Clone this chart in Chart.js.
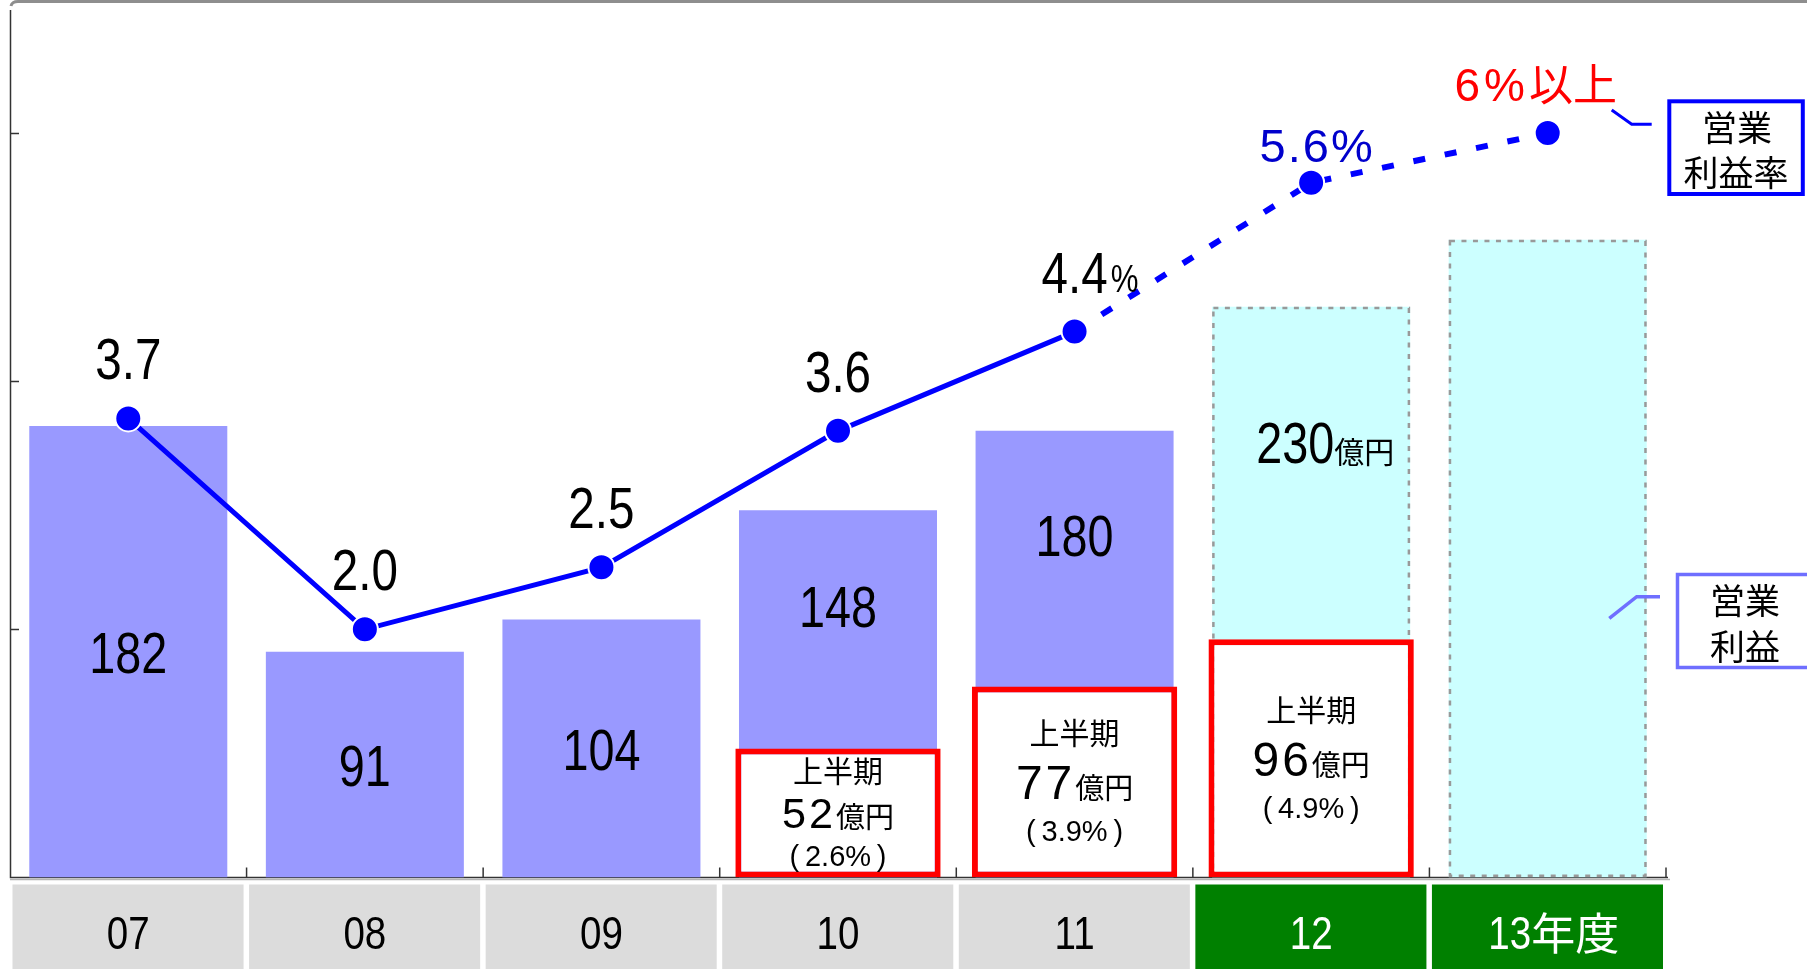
<!DOCTYPE html>
<html><head><meta charset="utf-8">
<script src="https://cdn.jsdelivr.net/npm/chart.js@4.4.1/dist/chart.umd.min.js"></script>
<style>html,body{margin:0;padding:0;background:#fff;} canvas{display:block;}</style>
</head><body>
<canvas id="c" width="1807" height="969"></canvas>
<script>
// ---- data ----
const categories = ['07', '08', '09', '10', '11', '12', '13年度'];
const operatingProfit = [182, 91, 104, 148, 180, null, null];      // 億円 (actual)
const profitForecast = [null, null, null, null, null, 230, 257];   // 億円 (plan)
const firstHalfProfit = [null, null, null, 52, 77, 96, null];      // 上半期 億円
const firstHalfMargin = [null, null, null, 2.6, 3.9, 4.9, null];   // 上半期 %
const operatingMargin = [3.7, 2.0, 2.5, 3.6, 4.4, 5.6, 6.0];       // 営業利益率 %
const forecastFrom = 5;
const profitAxisMax = 350;
const marginAxisMax = 7;
const profitTicks = [100, 200, 300];

// ---- text helpers ----
const SANS = '"Liberation Sans", Arial, sans-serif';
const CJK = '"Noto Sans CJK JP", sans-serif';
const NARROW = 0.82;
function fontOf(p){ return p.kind === 'cjk' ? CJK : SANS; }
function partWidth(ctx, p){
  ctx.font = p.size + 'px ' + fontOf(p);
  ctx.letterSpacing = (p.ls || 0) + 'px';
  let w = ctx.measureText(p.t).width;
  if (p.kind === 'narrow') w *= NARROW;
  return w;
}
function drawRun(ctx, parts, x, baseline, color, align){
  ctx.save();
  const widths = parts.map(p => partWidth(ctx, p));
  const total = widths.reduce((a, b) => a + b, 0) + parts.reduce((a, p) => a + (p.gap || 0), 0);
  let cx = align === 'left' ? x : x - total / 2;
  ctx.fillStyle = color; ctx.textAlign = 'left'; ctx.textBaseline = 'alphabetic';
  parts.forEach((p, i) => {
    ctx.font = p.size + 'px ' + fontOf(p);
    ctx.letterSpacing = (p.ls || 0) + 'px';
    ctx.save();
    ctx.translate(cx, baseline + (p.dy || 0));
    if (p.kind === 'narrow') ctx.scale(NARROW, 1);
    ctx.fillText(p.t, 0, 0);
    ctx.restore();
    cx += widths[i] + (p.gap || 0);
  });
  ctx.restore();
  return total;
}
function line(ctx, pts){ ctx.beginPath(); ctx.moveTo(pts[0][0], pts[0][1]); for (let i = 1; i < pts.length; i++) ctx.lineTo(pts[i][0], pts[i][1]); ctx.stroke(); }

const decor = {
  id: 'decor',
  beforeDatasetsDraw(chart){
    const {ctx, chartArea: a, scales: {x, y}} = chart;
    ctx.save();
    // top rule
    ctx.strokeStyle = '#8e8e8e'; ctx.lineWidth = 3;
    ctx.beginPath(); ctx.moveTo(a.left + 1, 6); ctx.quadraticCurveTo(a.left + 2, 1.5, a.left + 8, 1.5); ctx.lineTo(chart.width, 1.5); ctx.stroke();
    // axes
    ctx.strokeStyle = '#333'; ctx.lineWidth = 1.5;
    line(ctx, [[a.left + 0.5, a.top + 1], [a.left + 0.5, a.bottom], [a.right + 2, a.bottom]]);
    ctx.strokeStyle = '#b4b4b4'; ctx.lineWidth = 1.5;
    line(ctx, [[a.left, a.bottom + 2], [a.right + 4, a.bottom + 2]]);
    ctx.strokeStyle = '#333'; ctx.lineWidth = 1.5;
    profitTicks.forEach(v => { const py = Math.round(y.getPixelForValue(v)) + 0.5; line(ctx, [[a.left, py], [a.left + 9, py]]); });
    const step = x.getPixelForValue(1) - x.getPixelForValue(0);
    categories.forEach((c, i) => { const bx = x.getPixelForValue(i) + step / 2; line(ctx, [[bx, a.bottom], [bx, a.bottom - 10]]); });
    // category boxes
    categories.forEach((c, i) => {
      const cx = x.getPixelForValue(i);
      const l = cx - step / 2 + 2.5, r = cx + step / 2 - 3;
      const top = a.bottom + 7;
      const plan = i >= forecastFrom;
      ctx.fillStyle = plan ? '#008000' : '#dcdcdc';
      ctx.fillRect(l, top, r - l, chart.height - top);
      const m = c.match(/^(\d+)(.*)$/);
      const parts = [{t: m[1], kind: 'narrow', size: 47}];
      if (m[2]) parts.push({t: m[2], kind: 'cjk', size: 44, dy: 1});
      drawRun(ctx, parts, cx + (m[2] ? 6 : 0), 949, plan ? '#ffffff' : '#000000');
    });
    ctx.restore();
  },
  afterDatasetDraw(chart, args){
    if (args.index !== 1) return;
    const ctx = chart.ctx;
    const meta = chart.getDatasetMeta(1);
    ctx.save();
    ctx.setLineDash([5, 6.5]); ctx.strokeStyle = '#999999'; ctx.lineWidth = 2.5;
    meta.data.forEach((el, i) => {
      if (profitForecast[i] == null) return;
      const {x: ex, y: ey, base, width} = el.getProps(['x', 'y', 'base', 'width'], true);
      ctx.strokeRect(ex - width / 2 + 1.25, ey + 1.25, width - 2.5, base - ey - 3);
    });
    ctx.restore();
  },
  afterDatasetsDraw(chart){
    const ctx = chart.ctx;
    const barMeta = chart.getDatasetMeta(0), fcMeta = chart.getDatasetMeta(1), halfMeta = chart.getDatasetMeta(2), lineMeta = chart.getDatasetMeta(3);
    // operating profit labels
    operatingProfit.forEach((v, i) => {
      if (v == null) return;
      const el = barMeta.data[i];
      let cy;
      if (firstHalfProfit[i] != null) cy = (el.y + halfMeta.data[i].y) / 2 - 23;
      else cy = (el.y + el.base) / 2 + 1;
      drawRun(ctx, [{t: String(v), kind: 'narrow', size: 57}], el.x, cy + 20.4, '#000');
    });
    // forecast label (12)
    profitForecast.forEach((v, i) => {
      if (v == null || i !== forecastFrom) return;
      const el = fcMeta.data[i];
      drawRun(ctx, [{t: String(v), kind: 'narrow', size: 57}, {t: '億円', kind: 'cjk', size: 30, gap: 0}], el.x + 14, el.y + 156, '#000');
    });
    // first-half boxes
    firstHalfProfit.forEach((v, i) => {
      if (v == null) return;
      const el = halfMeta.data[i];
      const h = el.base - el.y;
      const s = Math.min(1, h / 150);
      const cy = (el.y + el.base) / 2;
      drawRun(ctx, [{t: '上半期', kind: 'cjk', size: 30}], el.x, cy - 49 * s + 0.38 * 30, '#000');
      drawRun(ctx, [{t: String(v), kind: 'sans', size: 48 * Math.max(s, 0.9), ls: 3}, {t: '億円', kind: 'cjk', size: 29}], el.x, cy + 0.358 * 48 * Math.max(s, 0.9), '#000');
      drawRun(ctx, [{t: '(\u2009' + firstHalfMargin[i].toFixed(1) + '%\u2009)', kind: 'sans', size: 29}], el.x, cy + 49 * s + 0.358 * 29, '#000');
    });
    // margin labels
    operatingMargin.forEach((v, i) => {
      const p = lineMeta.data[i];
      if (i < 4) {
        drawRun(ctx, [{t: v.toFixed(1), kind: 'narrow', size: 58}], p.x, p.y - 39, '#000');
      } else if (i === 4) {
        const w = drawRun(ctx, [{t: v.toFixed(1), kind: 'narrow', size: 58}], p.x, p.y - 39, '#000');
        drawRun(ctx, [{t: '%', kind: 'narrow', size: 38}], p.x + w / 2 + 3, p.y - 40, '#000', 'left');
      } else if (i === 5) {
        drawRun(ctx, [{t: v.toFixed(1) + '%', kind: 'sans', size: 47, ls: 2}], p.x + 6, p.y - 21, '#0000cc');
      } else {
        drawRun(ctx, [{t: String(Math.round(v)), kind: 'sans', size: 46, ls: 4}, {t: '%', kind: 'sans', size: 46, ls: 4}, {t: '以上', kind: 'cjk', size: 44}], p.x - 12, p.y - 32, '#ff0000');
      }
    });
  },
  afterDraw(chart){
    const ctx = chart.ctx;
    ctx.save();
    // 営業利益率 callout
    ctx.strokeStyle = '#0000ff'; ctx.lineWidth = 3;
    line(ctx, [[1611.7, 110], [1631.7, 124.3], [1651.7, 124.3]]);
    ctx.lineWidth = 4; ctx.strokeRect(1669.3, 101.3, 133.5, 92.7);
    drawRun(ctx, [{t: '営業', kind: 'cjk', size: 35}], 1737, 141.3, '#000');
    drawRun(ctx, [{t: '利益率', kind: 'cjk', size: 35}], 1736, 185.8, '#000');
    // 営業利益 callout
    ctx.strokeStyle = '#6f6fff'; ctx.lineWidth = 3.5;
    line(ctx, [[1609.3, 618.3], [1636.7, 596.7], [1660, 596.7]]);
    ctx.strokeRect(1677.5, 574.5, 140, 93);
    drawRun(ctx, [{t: '営業', kind: 'cjk', size: 35}], 1745, 614, '#000');
    drawRun(ctx, [{t: '利益', kind: 'cjk', size: 35}], 1745, 660, '#000');
    ctx.restore();
  }
};

new Chart(document.getElementById('c'), {
  type: 'bar',
  data: {
    labels: categories,
    datasets: [
      {label: '営業利益', data: operatingProfit, backgroundColor: '#9999ff', borderWidth: 0, barPercentage: 0.837, categoryPercentage: 1, grouped: false, order: 3, yAxisID: 'y'},
      {label: '営業利益(計画)', data: profitForecast, backgroundColor: '#ccffff', borderWidth: 0, barPercentage: 0.837, categoryPercentage: 1, grouped: false, order: 2, yAxisID: 'y'},
      {label: '上半期', data: firstHalfProfit, backgroundColor: '#ffffff', borderColor: '#ff0000', borderWidth: 6, borderSkipped: false, barPercentage: 0.868, categoryPercentage: 1, grouped: false, order: 1, yAxisID: 'y'},
      {type: 'line', label: '営業利益率', data: operatingMargin, yAxisID: 'y1', borderColor: '#0000ff', borderWidth: 5,
       pointRadius: 13, pointBackgroundColor: '#0000ff', pointBorderColor: '#ffffff', pointBorderWidth: 2, order: 0, tension: 0, clip: false,
       segment: {borderDash: c => c.p0DataIndex >= 4 ? [12, 20] : undefined, borderWidth: c => c.p0DataIndex >= 4 ? 6 : 5}}
    ]
  },
  options: {
    responsive: false, animation: false, devicePixelRatio: 1,
    layout: {autoPadding: false, padding: {left: 10, right: 141, top: 9, bottom: 91.5}},
    plugins: {legend: {display: false}, tooltip: {enabled: false}},
    scales: {
      x: {display: false, offset: true},
      y: {display: false, min: 0, max: profitAxisMax},
      y1: {display: false, min: 0, max: marginAxisMax, position: 'right'}
    }
  },
  plugins: [decor]
});
</script>
</body></html>
